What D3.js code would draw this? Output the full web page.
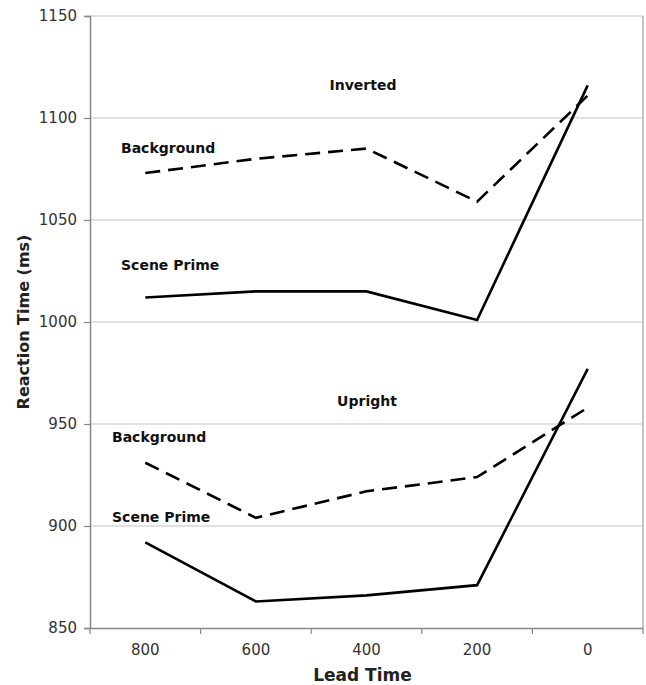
<!DOCTYPE html>
<html>
<head>
<meta charset="utf-8">
<script src="https://cdn.jsdelivr.net/npm/d3@7"></script>
<style>
  html, body { margin: 0; padding: 0; background: #fff; }
  svg { display: block; }
  text { font-family: "DejaVu Sans", Verdana, sans-serif; }
</style>
</head>
<body>
<svg id="chart" width="646" height="685"></svg>
<script>
// ---- data ----
const leadTimes = ["800", "600", "400", "200", "0"];
const invertedBackground = [1073, 1080, 1085, 1059, 1111];
const invertedScenePrime = [1012, 1015, 1015, 1001, 1116];
const uprightBackground = [931, 904, 917, 924, 958];
const uprightScenePrime = [892, 863, 866, 871, 977];
const yTicks = [850, 900, 950, 1000, 1050, 1100, 1150];

const series = [
  { name: "Background", values: invertedBackground, dashed: true },
  { name: "Scene Prime", values: invertedScenePrime, dashed: false },
  { name: "Background", values: uprightBackground, dashed: true },
  { name: "Scene Prime", values: uprightScenePrime, dashed: false }
];

// ---- layout ----
const M = { left: 90, right: 643, top: 16, bottom: 628 };
const svg = d3.select("#chart");

const xBand = d3.scaleBand().domain(leadTimes).range([M.left, M.right]).padding(0);
const xc = d => xBand(d) + xBand.bandwidth() / 2;
const y = d3.scaleLinear().domain([850, 1150]).range([M.bottom, M.top]);

// gridlines
svg.append("g").selectAll("line").data(yTicks.filter(t => t > 850)).join("line")
  .attr("x1", M.left).attr("x2", M.right)
  .attr("y1", d => y(d)).attr("y2", d => y(d))
  .attr("stroke", "#c4c4c4").attr("stroke-width", 1.2);

// right border
svg.append("line").attr("x1", M.right).attr("x2", M.right).attr("y1", M.top).attr("y2", M.bottom)
  .attr("stroke", "#b0b0b0").attr("stroke-width", 1.5);

// y axis
const yAxis = svg.append("g").attr("transform", `translate(${M.left},0)`)
  .call(d3.axisLeft(y).tickValues(yTicks).tickSize(6).tickPadding(7).tickFormat(d3.format("d")));
yAxis.select(".domain").attr("stroke", "#888").attr("stroke-width", 1.5);
yAxis.selectAll(".tick line").attr("stroke", "#888").attr("stroke-width", 1.2);
yAxis.selectAll(".tick text").attr("font-size", 15).attr("fill", "#333")
  .attr("font-family", "DejaVu Sans, Verdana, sans-serif");

// x axis
const xAxis = svg.append("g").attr("transform", `translate(0,${M.bottom})`)
  .call(d3.axisBottom(xBand).tickSize(0).tickPadding(16));
xAxis.select(".domain").attr("stroke", "#888").attr("stroke-width", 1.5);
xAxis.selectAll(".tick text").attr("font-size", 15).attr("fill", "#333")
  .attr("font-family", "DejaVu Sans, Verdana, sans-serif");
// boundary ticks
const bounds = leadTimes.map(d => xBand(d)).concat([xBand(leadTimes[leadTimes.length - 1]) + xBand.bandwidth()]);
xAxis.selectAll("line.bt").data(bounds).join("line").attr("class", "bt")
  .attr("x1", d => d).attr("x2", d => d).attr("y1", 0).attr("y2", 6)
  .attr("stroke", "#888").attr("stroke-width", 1.2);

// axis titles
svg.append("text").attr("x", (M.left + M.right) / 2 - 4).attr("y", 681)
  .attr("text-anchor", "middle").attr("font-size", 17).attr("font-weight", "bold")
  .attr("fill", "#222").text("Lead Time");
svg.append("text").attr("transform", `translate(29,${(M.top + M.bottom) / 2}) rotate(-90)`)
  .attr("text-anchor", "middle").attr("font-size", 16).attr("font-weight", "bold")
  .attr("fill", "#222").text("Reaction Time (ms)");

// lines
const line = d3.line().x((v, i) => xc(leadTimes[i])).y(v => y(v));
svg.append("g").selectAll("path").data(series).join("path")
  .attr("d", s => line(s.values))
  .attr("fill", "none").attr("stroke", "#000").attr("stroke-width", 2.6)
  .attr("stroke-dasharray", s => s.dashed ? "15,8" : null);

// annotations
const ann = [
  { t: "Inverted", x: 363, y: 90, a: "middle" },
  { t: "Background", x: 121, y: 153, a: "start" },
  { t: "Scene Prime", x: 121, y: 270, a: "start" },
  { t: "Upright", x: 367, y: 406, a: "middle" },
  { t: "Background", x: 112, y: 442, a: "start" },
  { t: "Scene Prime", x: 112, y: 522, a: "start" }
];
svg.append("g").selectAll("text").data(ann).join("text")
  .attr("x", d => d.x).attr("y", d => d.y).attr("text-anchor", d => d.a)
  .attr("font-size", 14).attr("font-weight", "bold").attr("fill", "#111")
  .text(d => d.t);
</script>
</body>
</html>
